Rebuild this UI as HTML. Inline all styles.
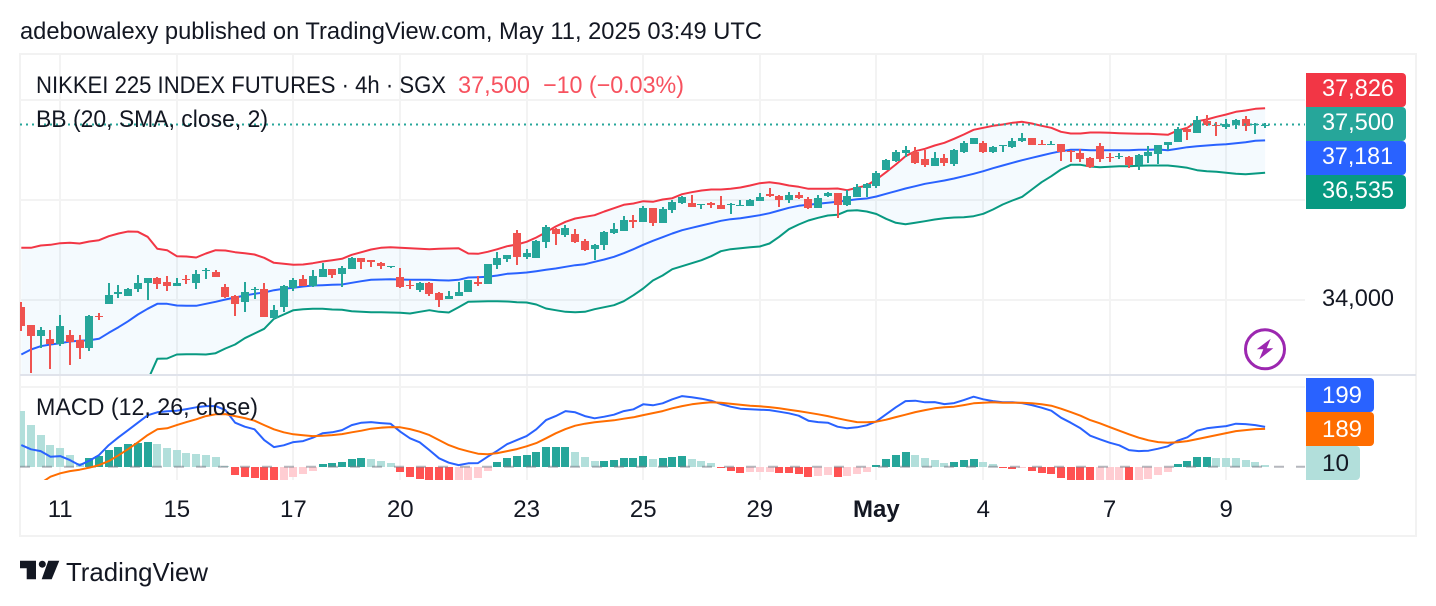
<!DOCTYPE html>
<html lang="en">
<head>
<meta charset="utf-8">
<title>Nikkei 225 Index Futures chart</title>
<style>
html,body{margin:0;padding:0;background:#fff;width:1436px;height:606px;overflow:hidden}
svg{display:block;position:absolute;left:0;top:0}
text{font-family:"Liberation Sans",sans-serif;fill:#131722}
</style>
</head>
<body>
<svg id="chart" xmlns="http://www.w3.org/2000/svg" width="1436" height="606" viewBox="0 0 1436 606">
  <defs>
    <clipPath id="main-clip"><rect x="20" y="55" width="1285" height="319"/></clipPath>
    <clipPath id="macd-clip"><rect x="20" y="387" width="1285" height="93"/></clipPath>
  </defs>
  <rect x="20" y="54" width="1396" height="482" fill="none" stroke="#f2f2f2" stroke-width="2"/>
  <g id="grid"></g>
  <g id="main" clip-path="url(#main-clip)"></g>
  <g id="macd" clip-path="url(#macd-clip)"></g>
  <rect x="20" y="374" width="1396" height="2" fill="#e0e3eb"/>

  <text x="20" y="39" font-size="24" textLength="742" lengthAdjust="spacingAndGlyphs">adebowalexy published on TradingView.com, May 11, 2025 03:49 UTC</text>
  <text x="36" y="93" font-size="24" textLength="410" lengthAdjust="spacingAndGlyphs">NIKKEI 225 INDEX FUTURES · 4h · SGX</text>
  <text x="458" y="93" font-size="24" style="fill:#f7525f" textLength="72" lengthAdjust="spacingAndGlyphs">37,500</text>
  <text x="543" y="93" font-size="24" style="fill:#f7525f" textLength="141" lengthAdjust="spacingAndGlyphs">−10 (−0.03%)</text>
  <text x="36" y="127" font-size="24" textLength="232" lengthAdjust="spacingAndGlyphs">BB (20, SMA, close, 2)</text>
  <text x="36" y="415" font-size="24" textLength="222" lengthAdjust="spacingAndGlyphs">MACD (12, 26, close)</text>

  <g>
    <path d="M1306 73H1402a4 4 0 0 1 4 4V103a4 4 0 0 1 -4 4H1306Z" fill="#f23645"/>
    <text x="1322" y="96" font-size="24" style="fill:#fff" textLength="72" lengthAdjust="spacingAndGlyphs">37,826</text>
  </g>
  <g>
    <path d="M1306 107H1402a4 4 0 0 1 4 4V137a4 4 0 0 1 -4 4H1306Z" fill="#26a69a"/>
    <text x="1322" y="130" font-size="24" style="fill:#fff" textLength="72" lengthAdjust="spacingAndGlyphs">37,500</text>
  </g>
  <g>
    <path d="M1306 141H1402a4 4 0 0 1 4 4V171a4 4 0 0 1 -4 4H1306Z" fill="#2962ff"/>
    <text x="1322" y="164" font-size="24" style="fill:#fff" textLength="71" lengthAdjust="spacingAndGlyphs">37,181</text>
  </g>
  <g>
    <path d="M1306 175H1402a4 4 0 0 1 4 4V205a4 4 0 0 1 -4 4H1306Z" fill="#089981"/>
    <text x="1322" y="198" font-size="24" style="fill:#fff" textLength="72" lengthAdjust="spacingAndGlyphs">36,535</text>
  </g>
  <g id="price-axis"></g>

  <g>
    <path d="M1306 378H1370a4 4 0 0 1 4 4V408a4 4 0 0 1 -4 4H1306Z" fill="#2962ff"/>
    <text x="1322" y="403" font-size="24" style="fill:#fff" textLength="40" lengthAdjust="spacingAndGlyphs">199</text>
  </g>
  <g>
    <path d="M1306 412H1370a4 4 0 0 1 4 4V442a4 4 0 0 1 -4 4H1306Z" fill="#ff6d00"/>
    <text x="1322" y="437" font-size="24" style="fill:#fff" textLength="40" lengthAdjust="spacingAndGlyphs">189</text>
  </g>
  <g>
    <path d="M1306 446H1356a4 4 0 0 1 4 4V476a4 4 0 0 1 -4 4H1306Z" fill="#b2dfdb"/>
    <text x="1322" y="471" font-size="24" textLength="27" lengthAdjust="spacingAndGlyphs">10</text>
  </g>

  <g id="time-axis"></g>

  <g>
    <circle cx="1265" cy="349.3" r="19.5" fill="#fff" stroke="#9c27b0" stroke-width="3"/>
    <polygon points="1270.7,338.7 1256.7,349.3 1263.3,349.3 1259.3,359.3 1273.3,348.3 1266.7,348.3" fill="#9c27b0"/>
  </g>

  <g>
    <path d="M20 560.7H36V579.3H26.7V568.3H20Z" fill="#131722"/>
    <circle cx="42.3" cy="564.2" r="3.5" fill="#131722"/>
    <polygon points="48.3,560.7 59.3,560.7 51.7,579.3 41.7,579.3" fill="#131722"/>
    <text x="66" y="581" font-size="26" textLength="142" lengthAdjust="spacingAndGlyphs">TradingView</text>
  </g>
</svg>

<script>
// Candles (price units)
const opens = [
33854,33500,33266,33214,33120,33300,33200,33040,33674,33906,
34120,34080,34220,34326,34434,34360,34266,34420,34340,34580,
34546,34254,34080,33960,34186,34214,33634,33860,34240,34420,
34280,34460,34614,34520,34620,34834,34794,34740,34660,34454,
34300,34200,34340,34134,34014,34066,34146,34360,34320,34700,
34820,35334,34860,34840,35160,35420,35300,35320,35180,35020,
35100,35340,35380,35600,35560,35840,35540,35800,35940,35940,
35900,35940,35900,35900,35866,35880,35980,36120,36080,36000,
36100,36020,35840,36080,36140,35900,36060,36240,36280,36600,
36780,36940,36960,36820,36680,36840,36720,36960,37120,37140,
36960,37080,37060,37180,37240,37120,37100,37120,36980,36940,
36840,37080,36860,36860,36860,36700,36880,36920,37100,37160,
37420,37340,37580,37500,37460,37500,37620,37500,37490];
const highs = [
33960,33500,33460,33400,33700,33400,33300,33686,33740,34340,
34300,34240,34500,34434,34460,34480,34440,34500,34600,34640,
34600,34320,34100,34360,34260,34340,33900,34300,34440,34500,
34600,34740,34620,34680,34860,34840,34800,34760,34680,34634,
34400,34360,34360,34154,34174,34360,34400,34480,34720,34960,
34900,35400,35020,35200,35500,35440,35500,35420,35220,35120,
35380,35540,35680,35700,35880,35840,35860,36000,36080,36100,
35920,35960,36080,35940,36000,36020,36140,36240,36100,36160,
36160,36060,36100,36160,36140,36200,36320,36340,36580,36820,
37000,37080,37060,37000,36960,36920,37020,37180,37240,37180,
37080,37100,37240,37340,37240,37200,37180,37120,37000,37020,
36860,37140,36940,36940,36880,36920,37080,37100,37160,37460,
37460,37680,37700,37560,37620,37620,37680,37540,37540];
const lows = [
33366,32526,33040,32620,33080,32686,32820,32966,33586,33906,
34026,34066,34154,33986,34220,34166,34266,34320,34220,34420,
34460,34040,33680,33760,34020,33660,33620,33760,34180,34280,
34260,34460,34440,34260,34620,34620,34660,34620,34640,34240,
34214,34146,34080,33860,34014,34066,34146,34280,34320,34620,
34760,34700,34820,34840,35040,35100,35260,35140,34980,34800,
35000,35320,35380,35440,35560,35480,35540,35740,35920,35860,
35820,35840,35820,35720,35866,35880,35980,36060,35860,35940,
36020,35820,35840,36060,35640,35880,36060,36060,36240,36600,
36760,36860,36720,36660,36680,36680,36680,36940,37120,36940,
36940,36960,37040,37160,37100,37100,37100,36780,36760,36760,
36640,36760,36760,36820,36640,36600,36740,36720,37000,37160,
37200,37340,37480,37280,37420,37420,37380,37320,37440];
const closes = [
33480,33266,33400,33120,33480,33160,33026,33666,33654,34100,
34154,34220,34334,34434,34320,34280,34334,34386,34514,34600,
34460,34060,33920,34154,34220,33660,33800,34280,34400,34280,
34480,34614,34500,34640,34840,34760,34760,34666,34680,34260,
34266,34340,34120,34000,34074,34160,34400,34320,34720,34840,
34900,34860,34940,35180,35460,35320,35440,35154,35000,35100,
35360,35420,35600,35560,35840,35540,35820,35960,36060,35860,
35920,35900,35820,35920,35900,36000,36060,36080,36000,36100,
36040,35840,36040,36140,35900,36080,36260,36320,36540,36800,
36960,37000,36740,36700,36840,36740,37000,37140,37240,36960,
37060,37100,37180,37240,37100,37100,37120,36960,36960,36820,
36660,36820,36826,36880,36700,36900,36960,37100,37160,37420,
37360,37600,37500,37480,37520,37600,37480,37520,37500];

// Bollinger bands (price units)
const bbUpper = [
35034,35034,35080,35094,35126,35134,35120,35160,35186,35266,
35320,35360,35354,35254,35014,34986,34866,34860,34840,34920,
34986,34980,34946,34926,34900,34834,34734,34714,34694,34700,
34726,34760,34786,34814,34894,34946,35000,35034,35046,35034,
35026,35014,35006,35014,35020,35026,34920,34914,34954,35006,
35066,35100,35154,35240,35346,35460,35554,35620,35654,35686,
35760,35826,35894,35920,35966,35954,36000,36026,36106,36146,
36180,36200,36200,36214,36240,36280,36326,36346,36320,36280,
36254,36214,36214,36214,36220,36186,36234,36280,36400,36546,
36700,36866,36966,37014,37080,37134,37214,37300,37394,37434,
37474,37500,37534,37554,37520,37474,37434,37354,37320,37320,
37340,37340,37334,37326,37320,37314,37314,37306,37294,37380,
37434,37566,37600,37654,37700,37754,37780,37814,37826];
const bbBasis = [
32900,33000,33066,33100,33126,33160,33174,33186,33214,33334,
33446,33566,33700,33814,33914,33914,33880,33874,33874,33914,
33954,34000,34040,34080,34114,34140,34186,34214,34234,34260,
34280,34286,34294,34300,34334,34366,34394,34400,34406,34400,
34394,34394,34394,34386,34380,34394,34440,34446,34454,34480,
34514,34526,34540,34566,34594,34620,34654,34686,34706,34754,
34800,34854,34926,35006,35094,35174,35246,35320,35386,35434,
35480,35526,35574,35606,35626,35654,35686,35726,35780,35834,
35874,35894,35914,35934,35954,35980,36006,36020,36060,36114,
36166,36220,36266,36314,36346,36380,36420,36466,36514,36566,
36626,36680,36734,36786,36834,36880,36926,36966,36994,36994,
36986,36986,36986,36986,36986,36994,36994,37000,36986,37014,
37046,37066,37080,37094,37106,37126,37146,37174,37181];
const bbLower = [
30780,30960,31060,31100,31120,31180,31220,31220,31240,31400,
31580,31780,32040,32380,32814,32820,32900,32906,32906,32900,
32926,33020,33100,33226,33320,33414,33614,33700,33786,33806,
33814,33814,33800,33794,33766,33754,33746,33746,33740,33734,
33720,33754,33786,33754,33740,33846,33954,33960,33966,33966,
33960,33946,33940,33900,33820,33786,33754,33746,33754,33806,
33846,33886,33966,34086,34220,34380,34480,34606,34666,34726,
34786,34866,34966,35006,35026,35046,35060,35120,35254,35406,
35500,35580,35634,35680,35694,35774,35786,35760,35710,35614,
35534,35506,35534,35566,35600,35626,35640,35646,35666,35714,
35800,35900,35980,36054,36200,36346,36466,36600,36694,36694,
36660,36646,36654,36666,36666,36674,36680,36680,36680,36660,
36634,36586,36566,36554,36534,36514,36506,36520,36535];

// MACD pane (indicator units)
const macdLine = [
108,87,78,50,53,33,7,30,58,108,
147,183,220,257,272,277,280,288,297,303,
303,283,220,200,187,133,98,107,123,128,
145,167,172,183,208,220,223,218,215,175,
142,122,83,42,20,8,17,18,50,80,
113,133,153,187,233,253,278,272,253,242,
250,260,278,287,312,307,317,337,353,347,
340,330,313,300,290,287,285,283,275,267,
255,230,223,220,200,192,197,207,227,262,
297,328,330,322,323,313,318,333,350,337,
328,322,322,318,308,295,280,245,220,192,
155,137,120,107,83,78,80,90,102,130,
147,180,192,198,203,215,213,208,199];
const signalLine = [
-167,-117,-82,-50,-33,-22,-15,-5,8,28,
57,88,122,158,187,192,208,223,237,253,
262,263,253,243,230,208,187,172,162,157,
153,155,158,163,172,180,190,195,198,197,
188,175,158,133,108,90,77,65,62,68,
78,88,102,118,142,167,188,205,215,222,
227,232,240,247,258,268,278,292,303,312,
318,322,320,315,310,305,302,298,292,285,
278,270,262,253,242,232,223,222,225,235,
248,260,273,283,292,297,300,308,317,320,
322,320,320,320,317,312,305,290,273,255,
233,217,198,180,162,145,132,123,120,122,
128,138,148,158,168,178,183,188,189];
const histogram = [
278,208,158,108,93,58,18,43,53,83,
98,113,118,123,113,93,83,68,63,58,
48,5,-40,-50,-55,-75,-85,-72,-50,-35,
-20,13,18,23,38,43,38,28,18,-28,
-50,-60,-72,-80,-85,-78,-65,-55,-20,23,
43,53,58,73,98,99,100,73,48,28,
30,33,43,44,53,38,43,48,53,38,
28,18,-8,-20,-30,-28,-26,-24,-30,-32,
-35,-50,-48,-40,-50,-48,-35,-25,8,38,
58,73,58,43,33,18,25,35,40,25,
15,-8,-9,-8,-20,-30,-35,-55,-65,-75,
-85,-80,-78,-72,-80,-72,-60,-40,-25,15,
30,48,50,45,44,43,35,25,10];

// Axis ticks
const timeTickIndex = [4,16,28,39,52,64,76,88,99,112,124];
const timeTickLabels = ["11","15","17","20","23","25","29","May","4","7","9"];
const priceGridValues = [38000,36000,34000];
const priceAxisValues = [34000];
const macdGridValues = [400];
const zeroValue = [0];

const barStep = 9.717;
const barStart = 21.3;
const xAt = i => barStart + barStep * i;
const yPrice = p => (39990 - p) / 20;
const yMacd = v => 466.7 - v * 0.2;
const fmt = n => String(n).replace(/\B(?=(\d{3})+$)/, ',');
const NS = 'http://www.w3.org/2000/svg';

function mk(tag, attrs, parent) {
  const el = document.createElementNS(NS, tag);
  for (const k in attrs) el.setAttribute(k, attrs[k]);
  parent.appendChild(el);
  return el;
}
function pathOf(values, yFn) {
  return values.map((v, i) => (i ? 'L' : 'M') + xAt(i).toFixed(1) + ' ' + yFn(v).toFixed(1)).join('');
}

const gridG = document.getElementById('grid');
const mainG = document.getElementById('main');
const macdG = document.getElementById('macd');
const timeG = document.getElementById('time-axis');
const priceG = document.getElementById('price-axis');

// Grid
priceGridValues.forEach(v => {
  const el = mk('rect', {x:20, y:Math.round(yPrice(v))-1, width:1285, height:2, fill:'#f3f3f3'}, gridG);
  
  
});
macdGridValues.forEach(v => {
  const el = mk('rect', {x:20, y:Math.round(yMacd(v))-1, width:1285, height:2, fill:'#f3f3f3'}, gridG);
  
  
});
timeTickIndex.forEach((t, k) => {
  const gx = Math.round(xAt(t)) - 1;
  const a = mk('rect', {x:gx, y:55, width:2, height:319, fill:'#f3f3f3'}, gridG);
  
  
  const b = mk('rect', {x:gx, y:376, width:2, height:104, fill:'#f3f3f3'}, gridG);
  
  
  const label = timeTickLabels[k];
  const txt = mk('text', {x:xAt(t).toFixed(1), y:517, 'font-size':24, 'text-anchor':'middle'}, timeG);
  
  
  if (label === 'May') txt.setAttribute('font-weight', 'bold');
  txt.textContent = label;
});

// Price axis label
priceAxisValues.forEach(v => {
  const el = mk('text', {x:1322, y:(yPrice(v)+6.5).toFixed(1), 'font-size':24, textLength:72, lengthAdjust:'spacingAndGlyphs'}, priceG);
  
  
  el.textContent = fmt(v);
});

// Bollinger fill
const fillD = pathOf(bbUpper, yPrice) + bbLower.slice().reverse().map((v, j) =>
  'L' + xAt(bbLower.length - 1 - j).toFixed(1) + ' ' + yPrice(v).toFixed(1)).join('') + 'Z';
const bbFill = mk('path', {d:fillD, fill:'#2196f3', 'fill-opacity':0.05}, mainG);



const upperLine = mk('path', {d:pathOf(bbUpper, yPrice), fill:'none', stroke:'#f23645', 'stroke-width':2, 'stroke-linejoin':'round'}, mainG);


const lowerLine = mk('path', {d:pathOf(bbLower, yPrice), fill:'none', stroke:'#089981', 'stroke-width':2, 'stroke-linejoin':'round'}, mainG);


const basisLine = mk('path', {d:pathOf(bbBasis, yPrice), fill:'none', stroke:'#2962ff', 'stroke-width':2, 'stroke-linejoin':'round'}, mainG);



// Candles
opens.forEach((o, i) => {
  const c = closes[i];
  const col = c >= o ? '#26a69a' : '#ef5350';
  const cx = Math.round(xAt(i));
  const g = mk('g', {'shape-rendering':'crispEdges'}, mainG);
  
  
  const wt = Math.round(yPrice(highs[i]));
  const wb = Math.round(yPrice(lows[i]));
  const wick = mk('rect', {x:cx-1, y:wt, width:2, height:Math.max(1, wb-wt), fill:col}, g);
  
  
  const bt = Math.round(yPrice(Math.max(o, c)));
  const bb = Math.round(yPrice(Math.min(o, c)));
  const body = mk('rect', {x:cx-4, y:bt, width:8, height:Math.max(1, bb-bt), fill:col}, g);
  
  
});

// Last-price dotted line
const lastY = yPrice(closes[closes.length - 1]);
const lastLine = mk('line', {x1:20, x2:1305, y1:lastY, y2:lastY, stroke:'#26a69a', 'stroke-width':2, 'stroke-dasharray':'2 4'}, mainG);



// MACD histogram
const zeroY = yMacd(zeroValue[0]);
histogram.forEach((v, i) => {
  const prev = i ? histogram[i-1] : Infinity;
  let col;
  if (v >= 0) col = v >= prev ? '#26a69a' : '#b2dfdb';
  else col = v < prev ? '#ff5252' : '#ffcdd2';
  const top = Math.round(Math.min(yMacd(v), zeroY));
  const bot = Math.round(Math.max(yMacd(v), zeroY));
  const bar = mk('rect', {x:Math.round(xAt(i))-4, y:top, width:8, height:Math.max(1, bot-top), fill:col, 'shape-rendering':'crispEdges'}, macdG);
  
  
});
const zeroLine = mk('line', {x1:20, x2:1305, y1:zeroY, y2:zeroY, stroke:'#787b86', 'stroke-opacity':0.55, 'stroke-width':2, 'stroke-dasharray':'10 12'}, macdG);


const macdPath = mk('path', {d:pathOf(macdLine, yMacd), fill:'none', stroke:'#2962ff', 'stroke-width':2, 'stroke-linejoin':'round'}, macdG);


const signalPath = mk('path', {d:pathOf(signalLine, yMacd), fill:'none', stroke:'#ff6d00', 'stroke-width':2, 'stroke-linejoin':'round'}, macdG);


</script>
</body>
</html>
